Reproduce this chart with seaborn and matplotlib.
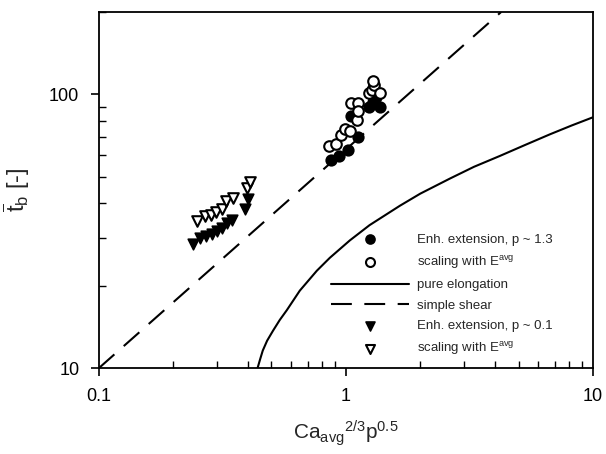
import numpy as np
import pandas as pd
import seaborn as sns
import matplotlib.pyplot as plt
from matplotlib.ticker import FuncFormatter, NullFormatter

# Enh. extension, p ~ 1.3 (filled circles)
ca_p13 = [0.870, 0.937, 1.019, 1.118, 1.048, 1.239, 1.286, 1.373, 1.322]
tb_p13 = [57.5, 59.5, 62.6, 69.8, 83.2, 89.7, 93.5, 89.7, 97.5]
# scaling with E_avg, p ~ 1.3 (open circles)
ca_p13s = [0.853, 0.911, 0.954, 0.991, 1.038, 1.048, 1.118, 1.108, 1.118,
           1.239, 1.274, 1.298, 1.286, 1.373]
tb_p13s = [64.7, 65.8, 71.0, 74.6, 73.3, 92.7, 92.7, 80.4, 86.7,
           100.8, 104.2, 107.8, 111.5, 100.8]
# Enh. extension, p ~ 0.1 (filled triangles)
ca_p01 = [0.240, 0.256, 0.271, 0.287, 0.300, 0.315, 0.330, 0.345, 0.390, 0.401]
tb_p01 = [28.5, 29.9, 30.5, 31.0, 31.8, 32.6, 34.0, 34.8, 38.2, 41.5]
# scaling with E_avg, p ~ 0.1 (open triangles)
ca_p01s = [0.249, 0.269, 0.284, 0.298, 0.315, 0.327, 0.349, 0.397, 0.409]
tb_p01s = [34.5, 36.0, 36.3, 37.2, 38.3, 40.8, 41.9, 45.5, 47.9]
# pure elongation curve
ca_elong = [0.439, 0.450, 0.461, 0.480, 0.507, 0.540, 0.577, 0.651, 0.763,
            0.861, 1.038, 1.247, 1.654, 2.0, 2.64, 3.3, 4.20, 5.3, 6.70, 8.2, 10.0]
tb_elong = [10.0, 10.8, 11.6, 12.6, 13.7, 15.0, 16.3, 19.2, 22.7,
            25.3, 29.3, 33.3, 39.2, 43.4, 49.3, 54.4, 59.6, 65.3, 71.5, 77.0, 82.5]
# simple shear line
ca_shear = [0.1, 4.25]
tb_shear = [10.0, 200.0]

sns.set_style('ticks')
plt.rcParams['font.family'] = ['Liberation Sans', 'DejaVu Sans']
plt.rcParams['mathtext.fontset'] = 'custom'
plt.rcParams['mathtext.rm'] = 'Liberation Sans'
plt.rcParams['mathtext.it'] = 'Liberation Sans:italic'

fig = plt.figure(figsize=(6.06, 4.54), dpi=100)
ax = fig.add_axes([0.163, 0.189, 0.8155, 0.7846])

ms = 58
sns.scatterplot(x=ca_p13, y=tb_p13, ax=ax, marker='o', s=ms, color='black',
                edgecolor='black', linewidth=1.2, label='Enh. extension, p ~ 1.3', zorder=3)
sns.scatterplot(x=ca_p13s, y=tb_p13s, ax=ax, marker='o', s=ms, color='white',
                edgecolor='black', linewidth=1.5, label=r'scaling with E$^{\mathrm{avg}}$', zorder=3)
sns.lineplot(x=ca_elong, y=tb_elong, ax=ax, color='black', linewidth=1.5,
             label='pure elongation', estimator=None, sort=False)
sns.lineplot(x=ca_shear, y=tb_shear, ax=ax, color='black', linewidth=1.5,
             label='simple shear', estimator=None, sort=False)
ax.lines[-1].set_dashes([10, 6])
sns.scatterplot(x=ca_p01, y=tb_p01, ax=ax, marker='v', s=ms, color='black',
                edgecolor='black', linewidth=1.2, label='Enh. extension, p ~ 0.1', zorder=3)
sns.scatterplot(x=ca_p01s, y=tb_p01s, ax=ax, marker='v', s=ms, color='white',
                edgecolor='black', linewidth=1.5, label=r'scaling with E$^{\mathrm{avg}}$', zorder=3)

ax.set_xscale('log')
ax.set_yscale('log')
ax.set_xlim(0.1, 10)
ax.set_ylim(10, 200)

fmt = FuncFormatter(lambda v, p: '{:g}'.format(v))
ax.xaxis.set_major_formatter(fmt)
ax.yaxis.set_major_formatter(fmt)
ax.xaxis.set_minor_formatter(NullFormatter())
ax.yaxis.set_minor_formatter(NullFormatter())
ax.tick_params(which='major', direction='out', length=6, width=1.2,
               labelsize=13, colors='black', pad=8)
ax.tick_params(which='minor', direction='in', length=5, width=1.0, colors='black')
for sp in ax.spines.values():
    sp.set_linewidth(1.3)
    sp.set_color('black')

ax.set_xlabel(r'Ca$_{\mathrm{avg}}$$^{2/3}$p$^{0.5}$', fontsize=15, labelpad=10)
ax.set_ylabel(r'$\overline{\mathrm{t}}_{\mathrm{b}}$ [-]', fontsize=17, labelpad=12)

leg = ax.legend(loc='upper left', bbox_to_anchor=(0.47, 0.378), frameon=False,
                fontsize=9.5, handlelength=5.9, handletextpad=0.6,
                labelspacing=0.62, borderpad=0, borderaxespad=0,
                markerscale=0.85)

plt.savefig('out.png', dpi=100)
plt.close()
